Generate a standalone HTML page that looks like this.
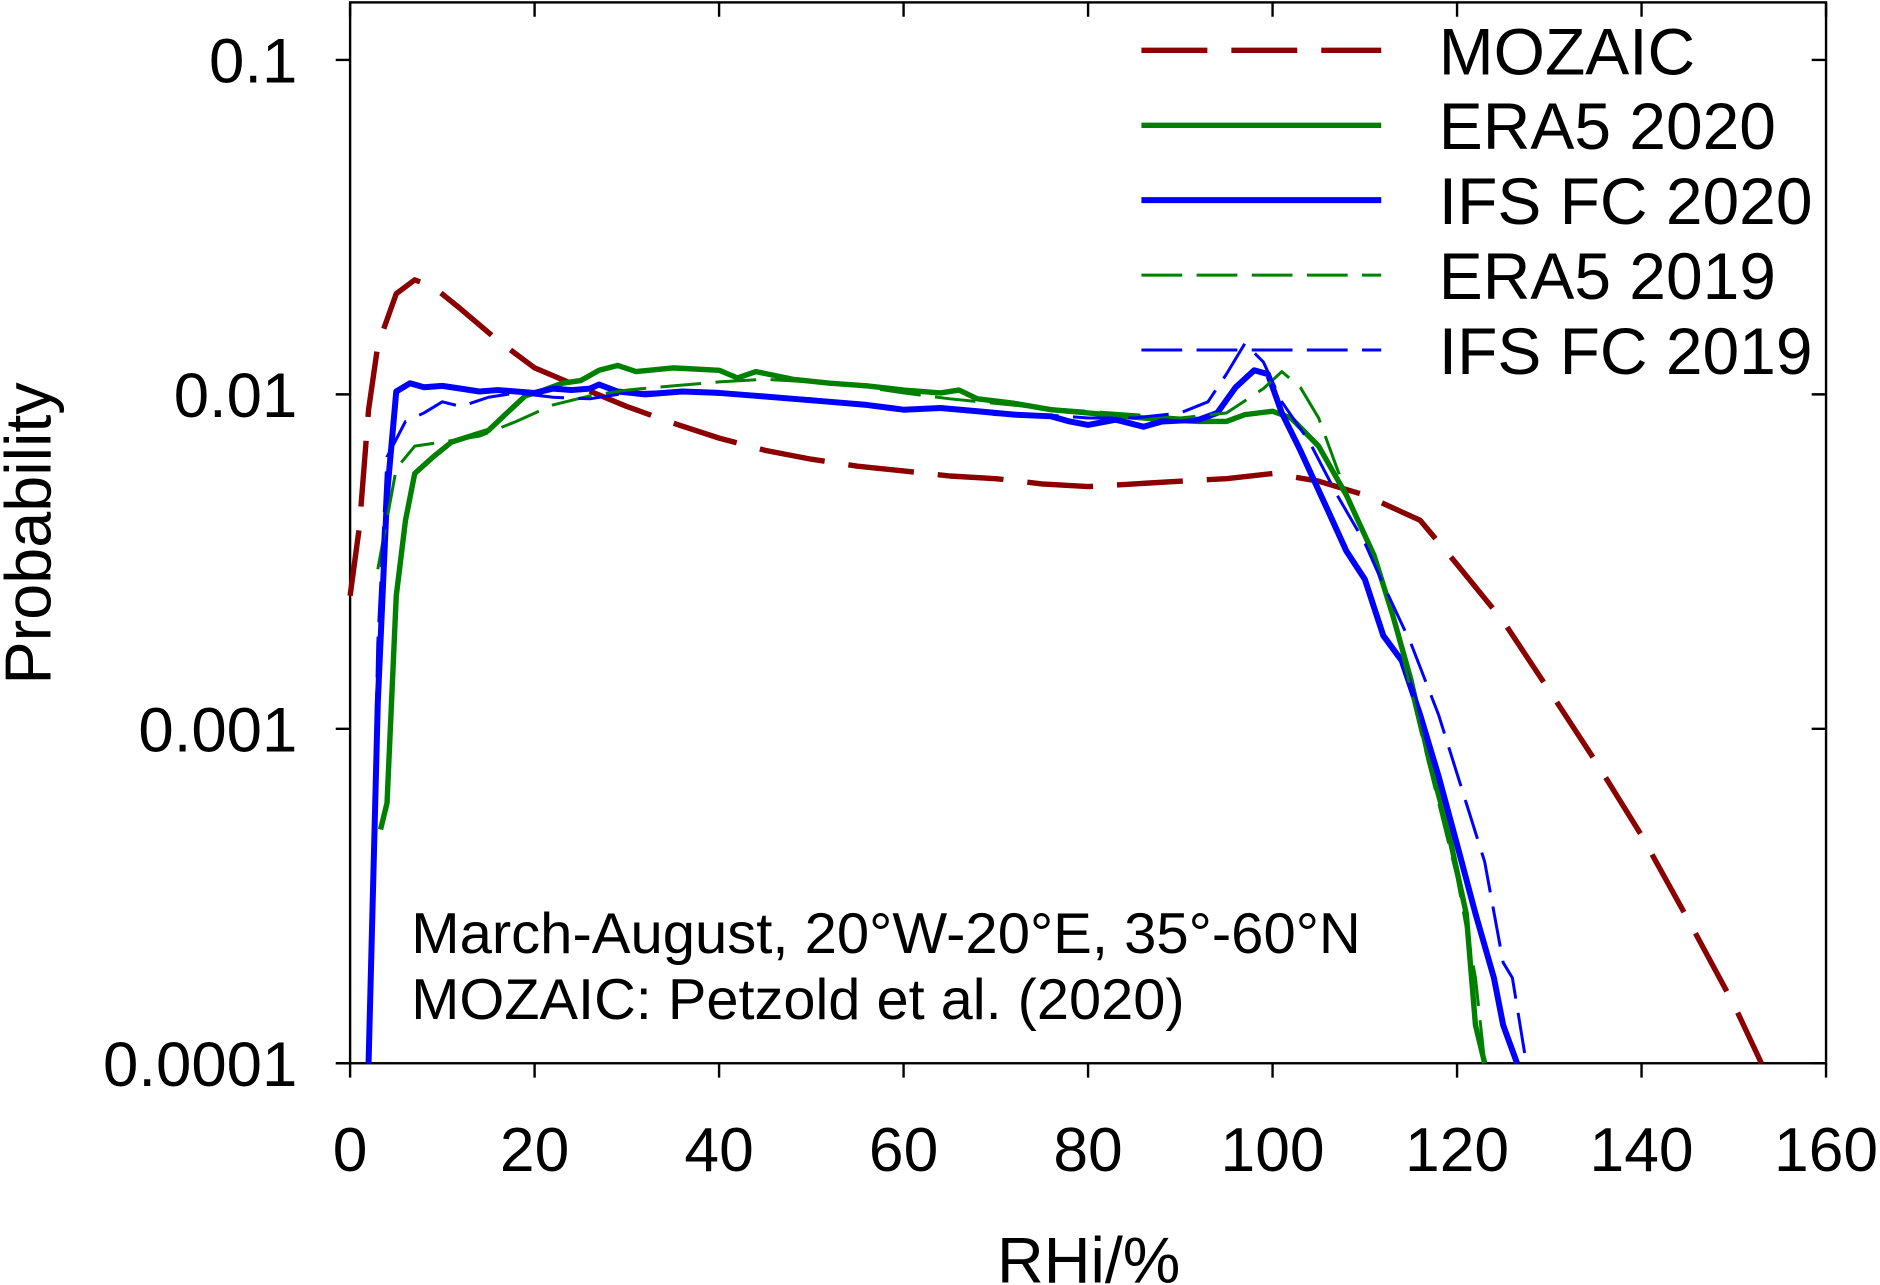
<!DOCTYPE html>
<html><head><meta charset="utf-8"><style>
html,body{margin:0;padding:0;background:#fff;}
svg{display:block;font-family:"Liberation Sans",Arial,sans-serif;}
</style></head><body>
<svg id="chart" width="1880" height="1285" viewBox="0 0 1568 1072" preserveAspectRatio="none">
<g id="axes"></g>
<g id="series"></g>
<g id="legend"></g>
<text x="343" y="795" font-size="48" textLength="792" lengthAdjust="spacingAndGlyphs">March-August, 20°W-20°E, 35°-60°N</text>
<text x="343" y="850" font-size="48" textLength="645" lengthAdjust="spacingAndGlyphs">MOZAIC: Petzold et al. (2020)</text>
<text x="908" y="1070" font-size="54" text-anchor="middle">RHi/%</text>
<text transform="translate(42,445) rotate(-90)" font-size="54" text-anchor="middle">Probability</text>
</svg>
<script>
const xTicks=[0,20,40,60,80,100,120,140,160];
const yTicks=[0.1,0.01,0.001,0.0001];
const yTickLabels=["0.1","0.01","0.001","0.0001"];
const seriesNames=["MOZAIC","ERA5 2020","IFS FC 2020","ERA5 2019","IFS FC 2019"];
const mozaicX=[0,1,2,3,5,7,9,12,16,20,25,30,35,40,45,50,55,60,65,70,75,80,85,90,95,100,105,110,116,120,125,130,135,140,145,150,153];
const mozaicY=[0.0025,0.004,0.009,0.014,0.02,0.022,0.021,0.018,0.0145,0.012,0.0105,0.0092,0.0082,0.0074,0.0068,0.0064,0.0061,0.0059,0.0057,0.0056,0.0054,0.0053,0.0054,0.0055,0.0056,0.0058,0.0055,0.005,0.0042,0.0031,0.0021,0.0013,0.0008,0.00048,0.00027,0.00015,0.0001];
const era20X=[3.3,4,5,6,7,9,11,13,15,17,19,21,23,25,27,29,31,35,40,42,44,48,52,56,60,64,66,68,72,76,80,84,88,92,95,97,100,102,105,108,111,113,115,117,119,121,122,123];
const era20Y=[0.0005,0.0006,0.0025,0.0042,0.0058,0.0065,0.0072,0.0075,0.0078,0.0088,0.0099,0.0103,0.0108,0.011,0.0118,0.0122,0.0117,0.012,0.0118,0.0112,0.0117,0.0111,0.0108,0.0106,0.0103,0.0101,0.0103,0.0097,0.0094,0.009,0.0088,0.0086,0.0084,0.0083,0.0083,0.0087,0.0089,0.0085,0.007,0.005,0.0033,0.0022,0.0014,0.0008,0.0005,0.00028,0.00013,0.0001];
const ifs20X=[2,3,4,5,6.5,8,10,12,14,16,18,20,22,24,26,27,29,32,36,40,44,48,52,56,60,64,68,72,76,78,80,83,86,88,92,94,96,98,99.5,101,103,106,108,110,112,114,116,118,120,122,124,125,126.5];
const ifs20Y=[0.0001,0.0012,0.005,0.0102,0.0108,0.0105,0.0106,0.0104,0.0102,0.0103,0.0102,0.0101,0.0104,0.0103,0.0104,0.0107,0.0102,0.01,0.0102,0.0101,0.0099,0.0097,0.0095,0.0093,0.009,0.0091,0.0089,0.0087,0.0086,0.0083,0.0081,0.0084,0.008,0.0083,0.0084,0.0088,0.0105,0.0118,0.0115,0.0088,0.0068,0.0045,0.0034,0.0028,0.0019,0.0016,0.0011,0.00072,0.00045,0.00028,0.00018,0.00013,0.0001];
const era19X=[3,5,7,10,14,18,22,26,30,35,40,45,50,55,60,65,70,75,80,85,90,95,99,101,103,105,107,109,112,114,116,118,120,122,123];
const era19Y=[0.003,0.006,0.007,0.0072,0.0075,0.0083,0.0093,0.0099,0.0103,0.0106,0.0109,0.0111,0.0109,0.0106,0.0101,0.0097,0.0094,0.0091,0.0089,0.0087,0.0085,0.0088,0.0104,0.0117,0.0105,0.0085,0.006,0.0043,0.0028,0.0017,0.001,0.0006,0.00036,0.00018,0.0001];
const ifs19X=[2,3,4,6,8,10,12,15,18,22,26,30,35,40,45,50,55,60,65,70,75,80,85,90,93,95,97,99,101,104,107,110,112,115,118,121,123,125,126,127.5];
const ifs19Y=[0.0001,0.0018,0.0065,0.0083,0.0088,0.0095,0.0092,0.0098,0.0101,0.0098,0.0097,0.0101,0.0102,0.01,0.0099,0.0097,0.0094,0.0091,0.0091,0.0087,0.0087,0.0085,0.0085,0.0088,0.0095,0.0115,0.0142,0.0125,0.0095,0.0072,0.005,0.0036,0.0027,0.0018,0.0011,0.0006,0.0004,0.0002,0.00018,0.0001];

const L=292,R=1523,T=2,B=887;
const xs=v=>L+(v-0)/160*(R-L);
const ys=p=>329+279*Math.log10(0.01/p);
const NS="http://www.w3.org/2000/svg";
function mk(tag,attrs,parent){const e=document.createElementNS(NS,tag);for(const k in attrs)e.setAttribute(k,attrs[k]);parent.appendChild(e);return e;}
const axes=document.getElementById('axes');
const frame=mk('rect',{x:L,y:T,width:R-L,height:B-T,fill:'none',stroke:'#000','stroke-width':2},axes);


xTicks.forEach(v=>{
  const x=xs(v);
  const t=mk('path',{d:`M${x},${B}V${B+12}M${x},${T}V${T+12}`,stroke:'#000','stroke-width':2},axes);
  
  
  const lb=mk('text',{x:x,y:977,'font-size':52,'text-anchor':'middle'},axes);
  lb.textContent=v;
  
  
});
yTicks.forEach((p,i)=>{
  const y=ys(p);
  const t=mk('path',{d:`M${L-12},${y}H${L}M${R-12},${y}H${R}`,stroke:'#000','stroke-width':2},axes);
  
  
  const lb=mk('text',{x:248,y:y+19,'font-size':53,'text-anchor':'end'},axes);
  lb.textContent=yTickLabels[i];
  
  
});
const styles=[
 {c:'#8b0000',w:4.5,d:'55 20'},
 {c:'#008000',w:4.5,d:''},
 {c:'#0000ff',w:5,d:''},
 {c:'#008000',w:2.5,d:'34 12'},
 {c:'#0000ff',w:2.5,d:'34 12'}];
const data=[[mozaicX,mozaicY],[era20X,era20Y],[ifs20X,ifs20Y],[era19X,era19Y],[ifs19X,ifs19Y]];
const sg=document.getElementById('series');
const lg=document.getElementById('legend');
const names=['mozaic-line','era5-2020-line','ifs-fc-2020-line','era5-2019-line','ifs-fc-2019-line'];
data.forEach((d,i)=>{
  const pts=d[0].map((x,j)=>xs(x).toFixed(1)+','+ys(d[1][j]).toFixed(1)).join(' ');
  const s=styles[i];
  const pl=mk('polyline',{points:pts,fill:'none',stroke:s.c,'stroke-width':s.w,'stroke-linejoin':'round'},sg);
  if(s.d)pl.setAttribute('stroke-dasharray',s.d);
  
  
  const ly=42+i*62.5;
  const ll=mk('line',{x1:952,x2:1152,y1:ly,y2:ly,stroke:s.c,'stroke-width':s.w},lg);
  if(s.d)ll.setAttribute('stroke-dasharray',s.d);
  
  
  const lt=mk('text',{x:1200,y:ly+20,'font-size':55},lg);
  lt.textContent=seriesNames[i];
  
  
});
</script>
</body></html>
